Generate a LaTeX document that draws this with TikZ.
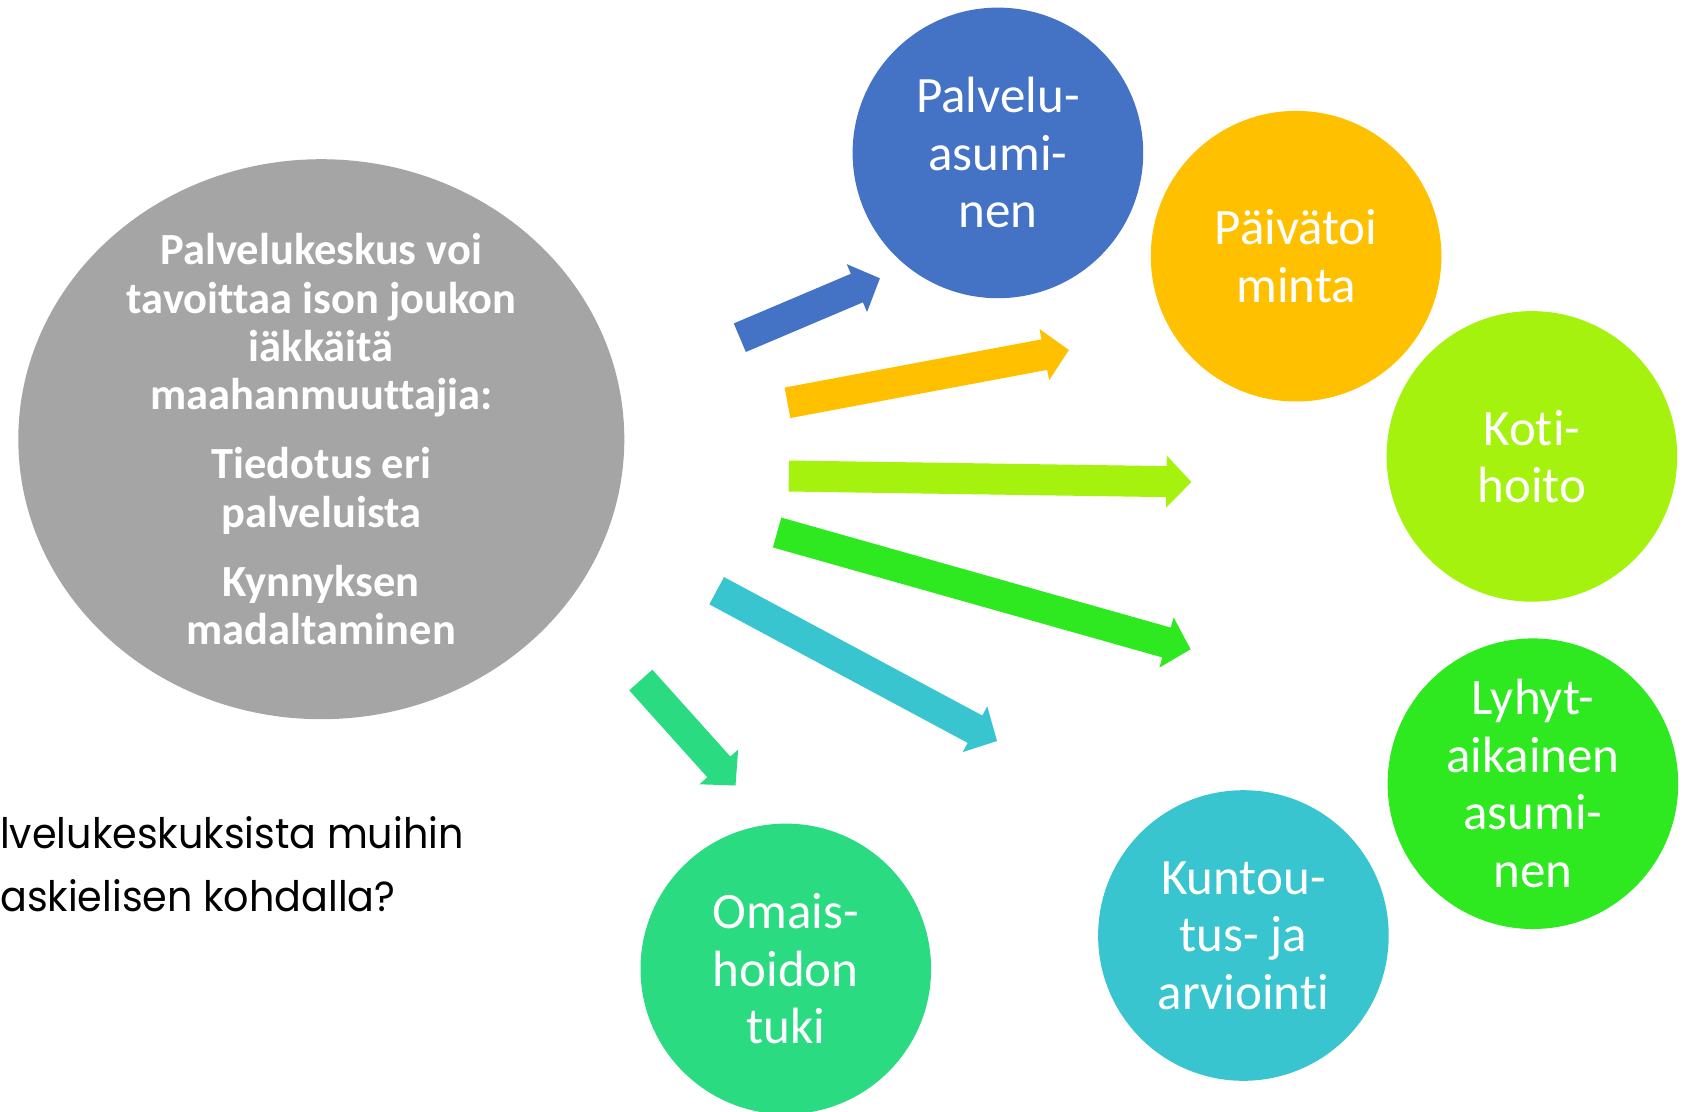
\documentclass[tikz,border=0pt]{standalone}
\usepackage{fontspec}
\setmainfont{Carlito}[Ligatures=NoCommon]
\newfontfamily\gothic{Poppins}[FakeStretch=0.945]
\usetikzlibrary{calc,shapes.geometric}
\definecolor{cgrey}{HTML}{A5A5A5}
\definecolor{cblue}{HTML}{4472C4}
\definecolor{corange}{HTML}{FFC000}
\definecolor{clime}{HTML}{A6F20F}
\definecolor{cgreen}{HTML}{2EE820}
\definecolor{ccyan}{HTML}{38C5CF}
\definecolor{cteal}{HTML}{2ADB82}
% fat block arrow from #1 (tail) to #2 (tip), colour #3
\newcommand\fatarrow[3]{%
  \coordinate (#1-base) at ($(#2)!25pt!(#1)$);
  \fill[#3] ($(#1)!15.5pt!90:(#2)$) -- ($(#1-base)!15.5pt!90:(#2)$)
    -- ($(#1-base)!26pt!90:(#2)$) -- (#2)
    -- ($(#1-base)!26pt!-90:(#2)$) -- ($(#1-base)!15.5pt!-90:(#2)$)
    -- ($(#1)!15.5pt!-90:(#2)$) -- cycle;
}
\begin{document}
\begin{tikzpicture}[x=1pt,y=-1pt,
  circ/.style={circle, minimum size=290.6pt, inner sep=0pt, text=white,
    align=center, font=\fontsize{51}{57.5}\selectfont},
  hub/.style={ellipse, fill=cgrey, minimum width=606pt, minimum height=560pt,
    inner sep=0pt},
  hubtext/.style={inner sep=0pt, text=white, align=center,
    font=\bfseries\fontsize{44.5}{48.4}\selectfont},
  question/.style={anchor=base west, inner sep=0pt, text=black,
    font=\gothic\fontsize{42}{50}\selectfont}]
\useasboundingbox (0,0) rectangle (1688,1111);
\fill[white] (0,0) rectangle (1688,1111);

\node[hub] (hub) at (321.3,439.2) {};
\node[hubtext] (hubt) at (hub.center) {Palvelukeskus voi\\ tavoittaa ison joukon\\ iäkkäitä\\ maahanmuuttajia:\\[20.5pt] Tiedotus eri\\ palveluista\\[20.5pt] Kynnyksen\\ madaltaminen};

% arrow tails and tips
\coordinate (t1) at (739.8,337.7);  \coordinate (h1) at (879.9,278.3);
\coordinate (t2) at (787.5,402.8);  \coordinate (h2) at (1068.9,350);
\coordinate (t3) at (788.8,476);    \coordinate (h3) at (1191.4,482);
\coordinate (t4) at (777.1,532.5);  \coordinate (h4) at (1190.6,649.3);
\coordinate (t5) at (716.65,590.7); \coordinate (h5) at (997,741);
\coordinate (t6) at (640.8,680);    \coordinate (h6) at (735.5,785.5);
\fatarrow{t1}{h1}{cblue}
\fatarrow{t2}{h2}{corange}
\fatarrow{t3}{h3}{clime}
\fatarrow{t4}{h4}{cgreen}
\fatarrow{t5}{h5}{ccyan}
\fatarrow{t6}{h6}{cteal}

\node[circ, fill=cblue]   (pa) at (997.9,152.9)  {Palvelu-\\asumi-\\nen};
\node[circ, fill=corange] (pt) at (1296.1,256.2) {Päivätoi\\minta};
\node[circ, fill=clime]   (kh) at (1531.9,456.4) {Koti-\\hoito};
\node[circ, fill=cgreen]  (la) at (1532.9,783.7) {Lyhyt-\\aikainen\\asumi-\\nen};
\node[circ, fill=ccyan]   (ka) at (1243.4,935.5) {Kuntou-\\tus- ja\\arviointi};
\node[circ, fill=cteal]   (ot) at (785.8,968.9)  {Omais-\\hoidon\\tuki};

\node[question] (q1) at (0,848.3) {lvelukeskuksista muihin};
\node[question] (q2) at (0,911.7) {askielisen kohdalla?};
\end{tikzpicture}
\end{document}
